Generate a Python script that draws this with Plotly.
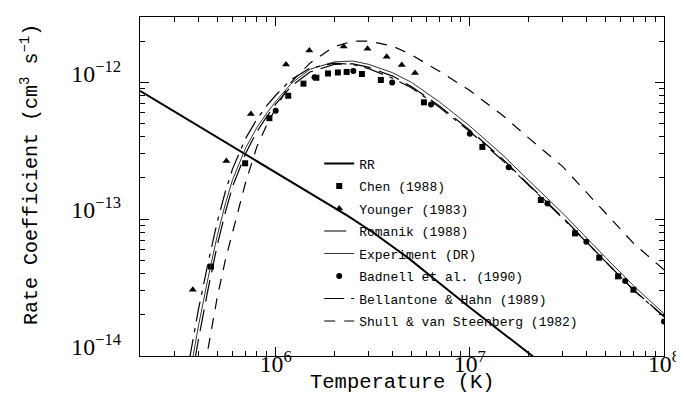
import math
import plotly.graph_objects as go

# ---------------- data ----------------
rr_T = [2e5, 3.5e5, 1e6, 2.34e6, 3.12e6, 4.83e6, 6.73e6, 1e7, 2.1e7, 2.63e7]
rr_R = [8.65e-13, 5.37e-13, 2.21e-13, 1.06e-13, 8.13e-14, 5.19e-14, 3.55e-14, 2.26e-14, 1.0e-14, 7.9e-15]

chen_T = [4.64e5, 6.96e5, 9.28e5, 1.16e6, 1.39e6, 1.62e6, 1.86e6, 2.09e6, 2.32e6,
          2.78e6, 3.48e6, 5.80e6, 1.16e7, 2.32e7, 3.48e7, 4.64e7, 5.80e7, 6.96e7]
chen_R = [4.50e-14, 2.56e-13, 5.47e-13, 7.97e-13, 9.78e-13, 1.08e-12, 1.16e-12, 1.18e-12, 1.19e-12,
          1.15e-12, 1.04e-12, 7.14e-13, 3.37e-13, 1.38e-13, 7.87e-14, 5.23e-14, 3.82e-14, 3.05e-14]

younger_T = [3.74e5, 5.57e5, 7.45e5, 1.13e6, 1.49e6, 2.24e6, 2.97e6, 3.73e6, 4.46e6, 5.22e6]
younger_R = [3.05e-14, 2.66e-13, 5.86e-13, 1.35e-12, 1.71e-12, 1.83e-12, 1.76e-12, 1.54e-12, 1.34e-12, 1.17e-12]

badnell_T = [1.0e6, 1.585e6, 2.51e6, 3.98e6, 6.31e6, 1.0e7, 1.585e7, 2.51e7, 3.98e7, 6.31e7, 1.0e8]
badnell_R = [6.19e-13, 1.09e-12, 1.21e-12, 9.95e-13, 6.87e-13, 4.20e-13, 2.39e-13, 1.30e-13, 6.85e-14, 3.53e-14, 1.79e-14]

curve_T = [3.6e5, 4.0e5, 4.5e5, 5e5, 5.5e5, 6e5, 7e5, 8e5, 9e5, 1e6, 1.2e6, 1.5e6, 2e6,
           2.5e6, 3e6, 4e6, 5e6, 7e6, 1e7, 1.5e7, 2e7, 3e7, 5e7, 7e7, 1e8]
exp_R = [7.1e-15, 1.66e-14, 3.80e-14, 7.59e-14, 1.29e-13, 1.95e-13, 3.31e-13, 4.68e-13, 5.96e-13,
         7.24e-13, 9.77e-13, 1.245e-12, 1.41e-12, 1.43e-12, 1.355e-12, 1.175e-12, 1.0e-12, 7.16e-13,
         4.79e-13, 2.88e-13, 1.93e-13, 1.11e-13, 5.25e-14, 3.24e-14, 2.04e-14]
romanik_R = [5.62e-15, 1.32e-14, 3.16e-14, 6.46e-14, 1.12e-13, 1.74e-13, 3.02e-13, 4.37e-13, 5.62e-13,
             6.92e-13, 9.33e-13, 1.19e-12, 1.35e-12, 1.365e-12, 1.29e-12, 1.11e-12, 9.33e-13, 6.68e-13,
             4.47e-13, 2.69e-13, 1.80e-13, 1.035e-13, 4.90e-14, 3.02e-14, 1.95e-14]
bellantone_R = [9.55e-15, 2.19e-14, 4.90e-14, 9.55e-14, 1.585e-13, 2.34e-13, 3.89e-13, 5.37e-13, 6.76e-13,
                8.04e-13, 1.047e-12, 1.27e-12, 1.38e-12, 1.35e-12, 1.26e-12, 1.07e-12, 9.12e-13, 6.53e-13,
                4.37e-13, 2.63e-13, 1.78e-13, 1.02e-13, 4.90e-14, 3.02e-14, 1.93e-14]

shull_T = [4.3e5, 4.5e5, 5e5, 5.5e5, 6e5, 7e5, 8e5, 9e5, 1e6, 1.2e6, 1.5e6, 2e6,
           2.5e6, 3e6, 4e6, 5e6, 7e6, 1e7, 1.5e7, 2e7, 3e7, 5e7, 7e7, 1e8]
shull_R = [8.13e-15, 1.175e-14, 2.69e-14, 5.01e-14, 8.13e-14, 1.86e-13, 3.39e-13, 4.90e-13, 6.46e-13,
           1.0e-12, 1.38e-12, 1.82e-12, 2.0e-12, 2.0e-12, 1.84e-12, 1.585e-12, 1.20e-12, 8.71e-13,
           5.62e-13, 3.94e-13, 2.43e-13, 1.10e-13, 6.61e-14, 4.27e-14]

x_title = "Temperature (K)"
y_title = "Rate Coefficient (cm<sup>3</sup> s<sup>−1</sup>)"

# ---------------- figure ----------------
MONO = "Liberation Mono"
SERIF = "Liberation Serif"

fig = go.Figure()

def line_trace(x, y, name, dash, width=1.2, color="black"):
    return go.Scatter(x=x, y=y, mode="lines", name=name, legendgroup=name,
                      line=dict(color=color, width=width, dash=dash))

def mark_trace(x, y, name, symbol, size):
    return go.Scatter(x=x, y=y, mode="markers", name=name, legendgroup=name,
                      marker=dict(color="black", symbol=symbol, size=size, line=dict(width=0)))

fig.add_trace(line_trace(rr_T, rr_R, "RR", "solid", width=2.0))
fig.add_trace(mark_trace(chen_T, chen_R, "Chen (1988)", "square", 6))
fig.add_trace(mark_trace(younger_T, younger_R, "Younger (1983)", "triangle-up", 7))
fig.add_trace(line_trace(curve_T, romanik_R, "Romanik (1988)", "22px,8px"))
fig.add_trace(line_trace(curve_T, exp_R, "Experiment (DR)", "solid", width=1.0, color="#333333"))
fig.add_trace(mark_trace(badnell_T, badnell_R, "Badnell et al. (1990)", "circle", 6))
fig.add_trace(line_trace(curve_T, bellantone_R, "Bellantone & Hahn (1989)", "20px,7px,4px,7px"))
fig.add_trace(line_trace(shull_T, shull_R, "Shull & van Steenberg (1982)", "11px,9px"))

axis_common = dict(
    type="log", showgrid=False, zeroline=False,
    showline=True, linecolor="black", linewidth=1.3, mirror="allticks",
    ticks="inside", ticklen=9, tickwidth=1.2, tickcolor="black",
    dtick=1, exponentformat="power", showexponent="all",
    tickfont=dict(family=SERIF, size=19, color="black"),
    minor=dict(ticks="inside", ticklen=5, tickwidth=1, tickcolor="black", dtick="D1", showgrid=False),
)

fig.update_layout(
    width=684, height=402,
    margin=dict(l=132, r=28, t=9, b=54),
    paper_bgcolor="white", plot_bgcolor="white",
    showlegend=True,
    legend=dict(x=0.342, y=0.612, xanchor="left", yanchor="top",
                bgcolor="rgba(0,0,0,0)", borderwidth=0,
                font=dict(family=MONO, size=13, color="black"),
                tracegroupgap=2.6, itemwidth=30),
    xaxis=dict(axis_common, range=[math.log10(2e5), 8], ticklabelstandoff=-13),
    yaxis=dict(axis_common, range=[-14, math.log10(3e-12)], ticklabelstandoff=14,
               ticklabelshift=-9),
    annotations=[
        dict(text=x_title, xref="paper", yref="paper", x=0.5, y=-0.079,
             xanchor="center", yanchor="middle", showarrow=False,
             font=dict(family=MONO, size=20.5, color="black")),
        dict(text=y_title, xref="paper", yref="paper", x=-0.211, y=0.535,
             xanchor="center", yanchor="middle", showarrow=False, textangle=-90,
             font=dict(family=MONO, size=20, color="black")),
    ],
)

fig.write_html("out.html")
